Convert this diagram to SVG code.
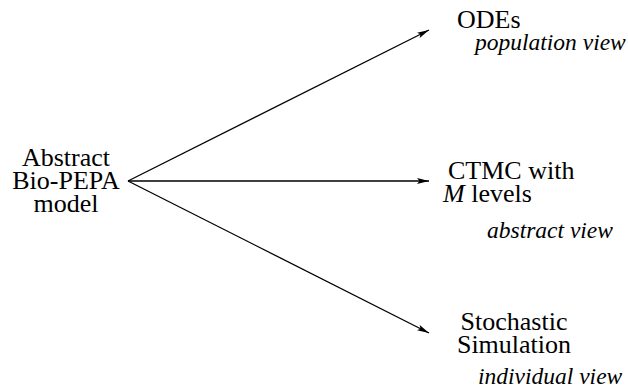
<svg xmlns="http://www.w3.org/2000/svg" width="628" height="391" viewBox="0 0 628 391">
<style>
text{font-family:"Liberation Serif","DejaVu Serif","Times New Roman",serif;font-size:26px;fill:#000}
.i{font-style:italic;font-size:23.5px}
.c{stroke:#000;stroke-width:1.3;fill:none}
</style>
<defs>
<marker id="ah" viewBox="0 0 12 6" refX="12" refY="3" markerWidth="12" markerHeight="6" markerUnits="userSpaceOnUse" orient="auto">
<path d="M0,0 L12,3 L0,6 L2.5,3 Z" fill="#000"/>
</marker>
</defs>
<g id="connectors">
<line class="c" x1="128" y1="181" x2="429" y2="30" marker-end="url(#ah)"/>
<line class="c" x1="128" y1="181" x2="429" y2="181" marker-end="url(#ah)"/>
<line class="c" x1="128" y1="181" x2="429" y2="333" marker-end="url(#ah)"/>
</g>
<g id="source">
<text x="66" y="166" text-anchor="middle">Abstract</text>
<text x="66" y="189" text-anchor="middle">Bio-PEPA</text>
<text x="66" y="212" text-anchor="middle">model</text>
</g>
<g id="odes">
<text x="457" y="28">ODEs</text>
<text class="i" x="475" y="50">population view</text>
</g>
<g id="ctmc">
<text x="448" y="179">CTMC with</text>
<text x="443" y="202"><tspan style="font-style:italic">M</tspan> levels</text>
<text class="i" x="487" y="238">abstract view</text>
</g>
<g id="ssa">
<text x="514" y="330" text-anchor="middle">Stochastic</text>
<text x="514" y="353" text-anchor="middle">Simulation</text>
<text class="i" x="478" y="384">individual view</text>
</g>
</svg>
